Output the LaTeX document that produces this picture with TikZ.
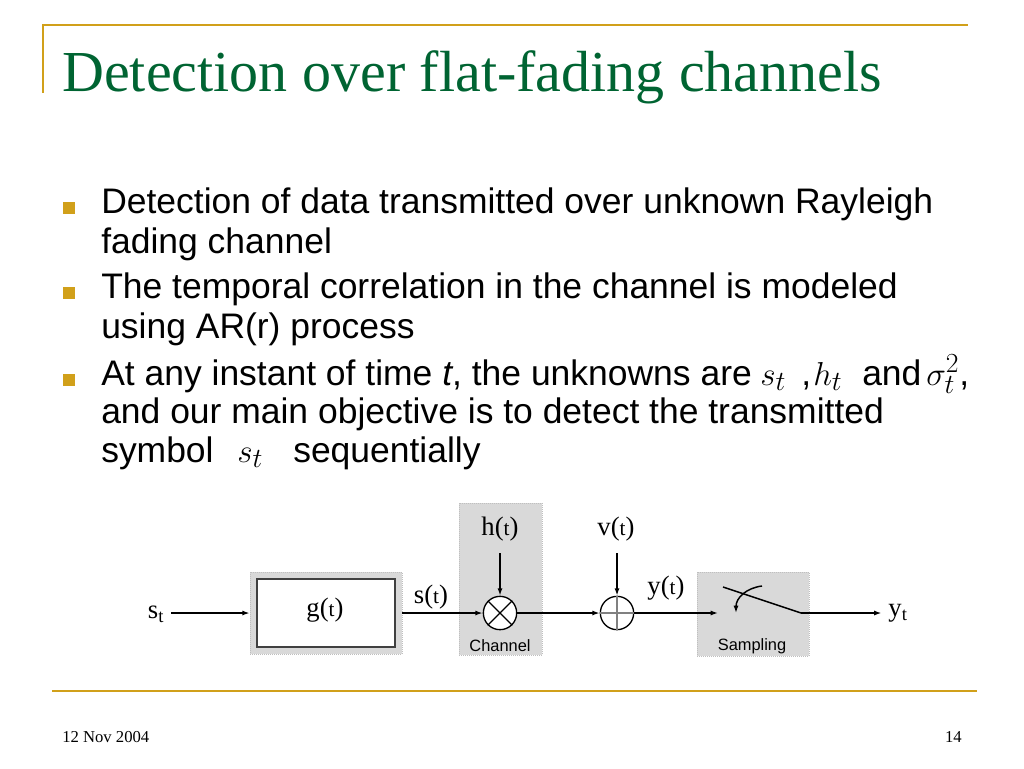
\documentclass[tikz,border=0pt]{standalone}
\usepackage{fontspec}
\setmainfont{Liberation Serif}
\newfontfamily\arialf{Liberation Sans}
\usetikzlibrary{arrows.meta}
\definecolor{gold}{RGB}{209,160,26}
\definecolor{tgreen}{RGB}{0,100,50}
\definecolor{boxgray}{RGB}{217,217,217}
\begin{document}
\begin{tikzpicture}[x=0.75pt,y=-0.75pt,
 arr/.style={-{Latex[length=5.5pt,width=3.8pt]}, line width=1.1pt},
 wire/.style={line width=1.1pt},
 graybox/.style={fill=boxgray, draw=black!25, densely dotted, line width=0.5pt, inner sep=0},
 bulsq/.style={fill=gold, draw=none, minimum size=8.5pt, inner sep=0},
 btxt/.style={anchor=base west, inner sep=0, font=\arialf\fontsize{26.6}{30}\selectfont},
 mtxt/.style={anchor=base west, inner sep=0, font=\fontsize{32}{34}\selectfont},
 mtxtb/.style={anchor=base west, inner sep=0, font=\fontsize{29}{32}\selectfont},
 lab/.style={inner sep=0, font=\fontsize{20}{22}\selectfont},
 smalllab/.style={inner sep=0, font=\arialf\fontsize{12.3}{14}\selectfont},
 footer/.style={inner sep=0, font=\fontsize{12.5}{14}\selectfont},
]
\path[use as bounding box] (0,0) rectangle (1024,768);

% frame lines
\draw[gold, line width=1.5pt] (42,25) -- (968,25);
\draw[gold, line width=1.2pt] (43,25) -- (43,93);
\draw[gold, line width=2.2pt] (52,691) -- (977,691);

% title
\node[anchor=base west, inner sep=0, text=tgreen, font=\fontsize{43.5}{50}\selectfont] (title) at (62,91) {Detection over flat-fading channels};

% bullets
\node[bulsq] (b1) at (69,208) {};
\node[btxt] (t1a) at (101,213) {Detection of data transmitted over unknown Rayleigh};
\node[btxt] (t1b) at (101,253) {fading channel};
\node[bulsq] (b2) at (69,293) {};
\node[btxt] (t2a) at (101,298) {The temporal correlation in the channel is modeled};
\node[btxt] (t2b) at (101,338) {using AR(r) process};
\node[bulsq] (b3) at (69,380) {};
\node[btxt] (t3a) at (101,385) {At any instant of time \textit{t}, the unknowns are};
\node[mtxt] (m1) at (760,385) {$s_t$};
\node[btxt] (c1) at (801,385) {,};
\node[mtxt] (m2) at (813,385) {$h_t$};
\node[btxt] (and) at (862,385) {and};
\node[mtxt] (m3) at (926,385) {$\sigma_t^2${\arialf\fontsize{26.6}{30}\selectfont ,}};
\node[btxt] (t3b) at (101,423) {and our main objective is to detect the transmitted};
\node[btxt] (t3c) at (101,462) {symbol};
\node[mtxtb] (m4) at (237,462) {$s_t$};
\node[btxt] (t3d) at (293,462) {sequentially};

% block diagram
\node[lab, anchor=base, inner sep=0] (st) at (156,618) {s\textsubscript{t}};
\node[graybox, minimum width=114pt, minimum height=61.5pt] (gout) at (326,613) {};
\node[draw=black!75, line width=1.5pt, fill=white, minimum width=103.5pt, minimum height=51pt, inner sep=0] (gin) at (326,613) {};
\node[lab] (glab) at (325,610) {g({\fontsize{16}{18}\selectfont t})};

\node[graybox, minimum width=62.25pt, minimum height=114pt] (chan) at (500.5,579) {};
\node[circle, draw, line width=1pt, fill=white, minimum size=25pt, inner sep=0] (mult) at (500,613) {};
\draw[line width=1pt] (mult.45) -- (mult.225) (mult.135) -- (mult.-45);
\node[smalllab] (chl) at (500,646) {Channel};
\node[lab] (h) at (500,529) {h({\fontsize{16}{18}\selectfont t})};
\coordinate (hs) at (500,553);
\draw[arr] (hs) -- (mult.north);

\node[lab] (slab) at (431,597) {s({\fontsize{16}{18}\selectfont t})};
\draw[arr] (gout.east) -- (mult.west);
\draw[arr, shorten <=5pt] (st.east |- gout.west) -- (gout.west);

\node[circle, draw, line width=1pt, fill=white, minimum size=25pt, inner sep=0] (sum) at (617,613) {};
\draw[black!50, line width=0.8pt] (sum.north) -- (sum.south) (sum.west) -- (sum.east);
\node[lab] (v) at (616,529) {v({\fontsize{16}{18}\selectfont t})};
\coordinate (vs) at (617,553);
\draw[arr] (vs) -- (sum.north);
\draw[arr] (mult.east) -- (sum.west);

\node[lab] (ylab) at (666,588) {y({\fontsize{16}{18}\selectfont t})};
\node[graybox, minimum width=84pt, minimum height=63pt] (samp) at (753,614) {};
\node[smalllab] (sl) at (752,646) {Sampling};
\coordinate (sin) at (718,613);
\coordinate (sw1) at (723,587);
\coordinate (sw2) at (801,613);
\coordinate (cv1) at (762,586);
\coordinate (cv2) at (736,613);
\draw[arr] (sum.east) -- (sin);
\draw[wire] (sw1) -- (sw2);
\draw[arr] (cv1) .. controls (746,588) and (736,598) .. (cv2);
\node[lab, inner sep=0] (yt) at (898,613) {y\textsubscript{t}};
\draw[arr, shorten >=5pt] (sw2) -- (yt.west |- sw2);

% footer
\node[footer, anchor=base west] (date) at (62,742) {12 Nov 2004};
\node[footer, anchor=base east] (page) at (962,742) {14};
\end{tikzpicture}
\end{document}
